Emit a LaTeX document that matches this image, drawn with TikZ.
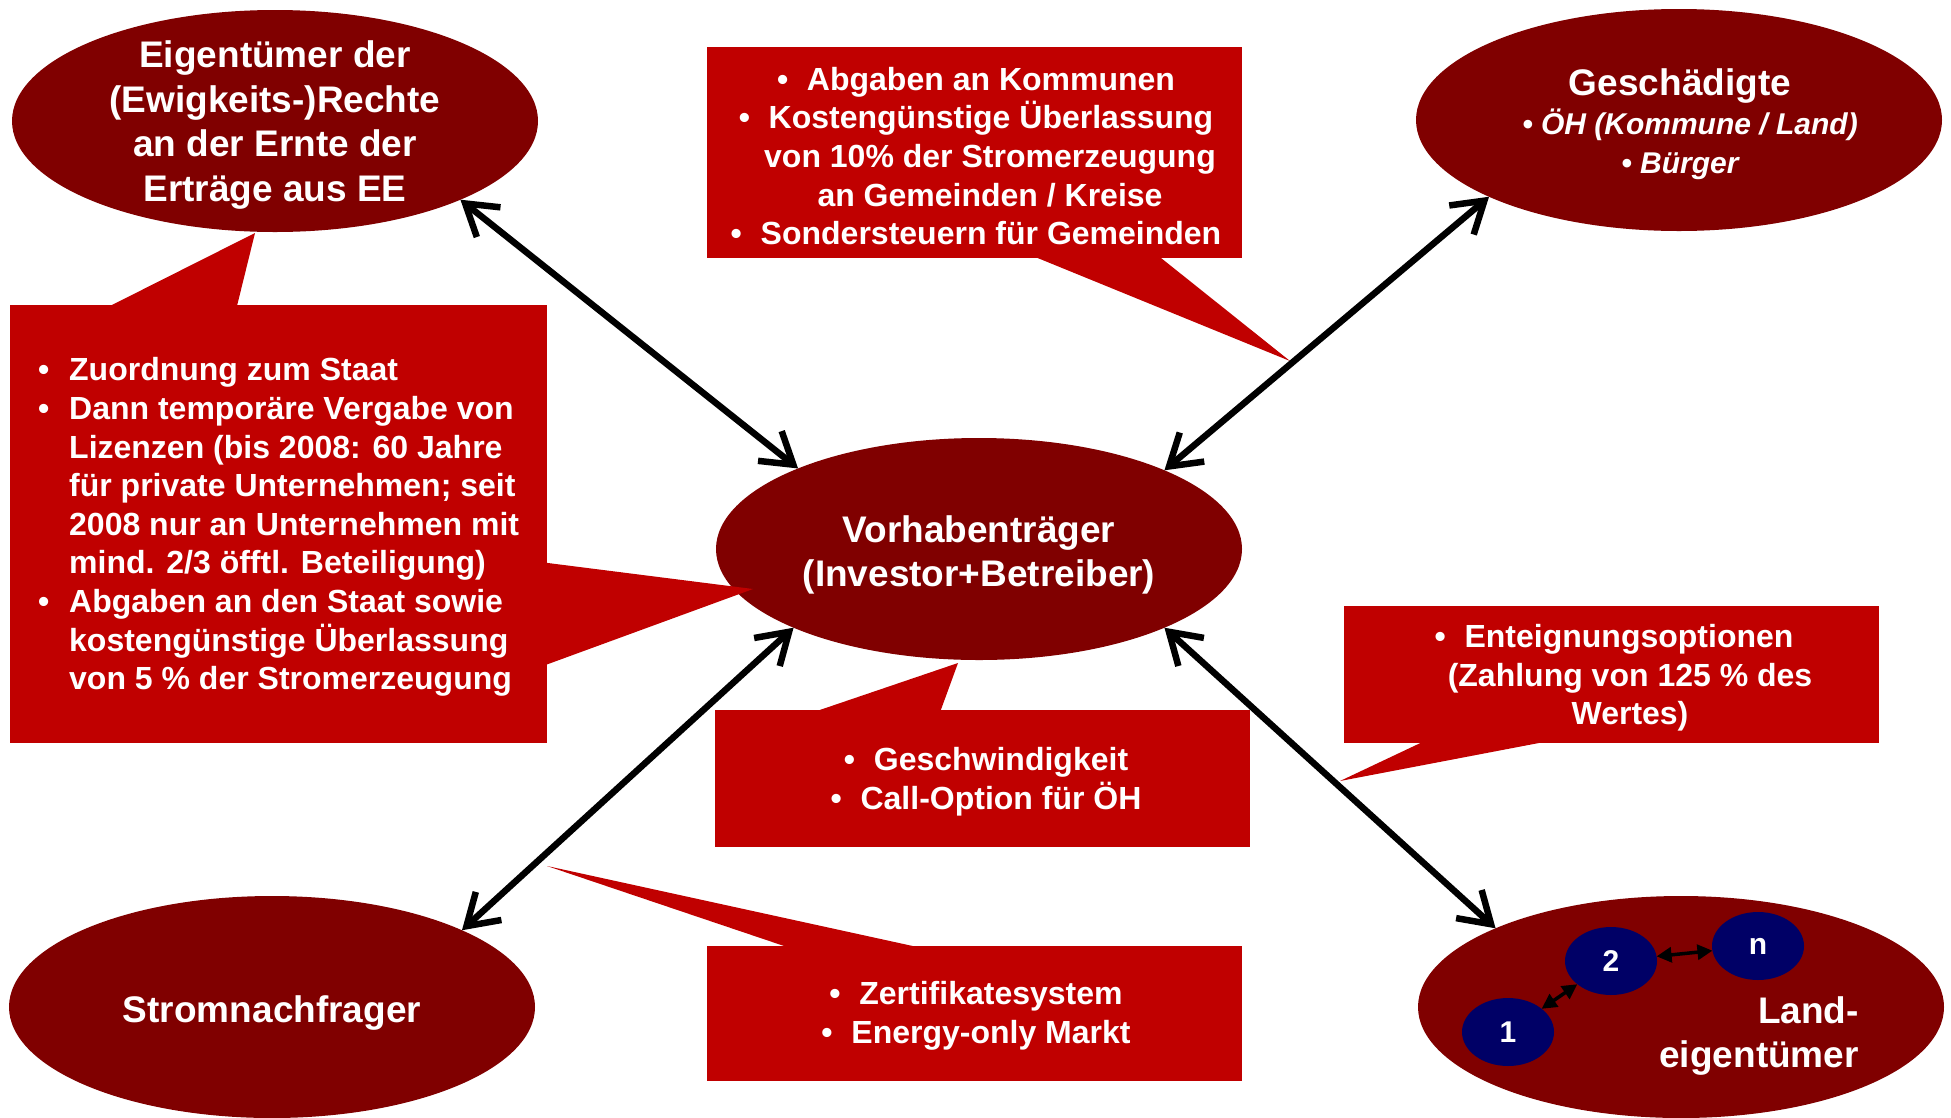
\documentclass[tikz,border=0pt]{standalone}
\usepackage{fontspec}
\setmainfont{Liberation Sans}
\usetikzlibrary{shapes.geometric,arrows.meta}
\definecolor{ellred}{RGB}{128,0,0}
\definecolor{boxred}{RGB}{192,0,0}
\definecolor{ownblue}{RGB}{0,0,102}
\newcommand{\bulA}{\makebox[31pt][l]{\textbullet}}
\newcommand{\indA}{\hspace*{31pt}}
\newcommand{\bulB}{\makebox[30pt][l]{\textbullet}}
\begin{document}
\begin{tikzpicture}[x=1pt,y=-1pt,
  bigell/.style={ellipse, fill=ellred, minimum width=526pt, minimum height=222pt, inner sep=0pt, outer sep=0pt},
  smallell/.style={ellipse, fill=ownblue, minimum width=92pt, minimum height=68pt, inner sep=0pt, outer sep=0pt, text=white, font=\bfseries\fontsize{30}{36}\selectfont},
  titletext/.style={text=white, font=\bfseries\fontsize{37}{44.5}\selectfont, align=center, inner sep=0pt},
  subtext/.style={text=white, font=\bfseries\itshape\fontsize{30}{36}\selectfont, inner sep=0pt},
  callbox/.style={fill=boxred, inner sep=0pt, outer sep=0pt, anchor=north west},
  calltext/.style={text=white, font=\bfseries\fontsize{32}{38.6}\selectfont, align=center, inner sep=0pt},
  pointer/.style={fill=boxred},
  bigarrow/.style={line width=6.5pt, arrows={Straight Barb[length=30pt,width=38pt]-Straight Barb[length=30pt,width=38pt]}},
  smallarrow/.style={line width=3.5pt, arrows={Triangle[length=15pt,width=15pt]-Triangle[length=15pt,width=15pt]}}
]
\fill[white] (0,0) rectangle (1951,1117);
\useasboundingbox (0,0) rectangle (1951,1117);

% main ellipses
\node[bigell] (e1) at (275,121) {};
\node[bigell] (gs) at (1679,120) {};
\node[bigell] (vt) at (979,549) {};
\node[bigell] (sn) at (272,1007) {};
\node[bigell] (le) at (1681,1007) {};

\node[titletext] (e1t) at (275,125) {Eigentümer der\\(Ewigkeits-)Rechte\\an der Ernte der\\Erträge aus EE};
\node[titletext, anchor=base] (gst) at (1680,95) {Geschädigte};
\node[subtext, anchor=base] (gs1) at (1690,134) {• ÖH (Kommune / Land)};
\node[subtext, anchor=base] (gs2) at (1680,173) {• Bürger};
\node[titletext] (vtt) at (979,555) {Vorhabenträger\\(Investor+Betreiber)};
\node[titletext, anchor=base] (snt) at (272,1022) {Stromnachfrager};
\node[titletext, align=right, anchor=east] (let) at (1859,1036) {Land-\\eigentümer};

% land owners
\node[smallell] (b1) at (1508,1032) {1};
\node[smallell] (b2) at (1611,961) {2};
\node[smallell] (bn) at (1758,946) {n};
\draw[smallarrow] (b1) -- (b2);
\draw[smallarrow] (b2) -- (bn);

% left callout
\node[callbox, minimum width=537pt, minimum height=438pt] (lb) at (10,305) {};
\fill[pointer] (102,310) -- (255,233) -- (236,310) -- cycle;
\fill[pointer] (540,562) -- (753,589) -- (540,667) -- cycle;
\node[calltext, align=left, anchor=west] (lbt) at (38,527) {\bulA Zuordnung zum Staat\\
\bulA Dann temporäre Vergabe von\\
\indA Lizenzen (bis 2008: 60 Jahre\\
\indA für private Unternehmen; seit\\
\indA 2008 nur an Unternehmen mit\\
\indA mind. 2/3 öfftl. Beteiligung)\\
\bulA Abgaben an den Staat sowie\\
\indA kostengünstige Überlassung\\
\indA von 5 \% der Stromerzeugung};

% top callout
\node[callbox, minimum width=535pt, minimum height=211pt] (tb) at (707,47) {};
\fill[pointer] (1018,250) -- (1290,361) -- (1151,250) -- cycle;
\node[calltext] (tbt) at (976,156) {\bulB Abgaben an Kommunen\\
\bulB Kostengünstige Überlassung\\
\hspace*{28pt}von 10\% der Stromerzeugung\\
\hspace*{28pt}an Gemeinden / Kreise\\
\bulB Sondersteuern für Gemeinden};

% middle callout
\node[callbox, minimum width=535pt, minimum height=137pt] (mb) at (715,710) {};
\fill[pointer] (805,715) -- (958,663) -- (939,715) -- cycle;
\node[calltext] (mbt) at (986,782) {\bulB Geschwindigkeit\\ \bulB Call-Option für ÖH};

% right callout
\node[callbox, minimum width=535pt, minimum height=137pt] (rb) at (1344,606) {};
\fill[pointer] (1431,738) -- (1340,781) -- (1565,738) -- cycle;
\node[calltext] (rbt) at (1614,678) {\bulB Enteignungsoptionen\\
\hspace*{32pt}(Zahlung von 125 \% des\\
\hspace*{32pt}Wertes)};

% bottom callout
\node[callbox, minimum width=535pt, minimum height=135pt] (bb) at (707,946) {};
\fill[pointer] (796,950) -- (547,866) -- (931,950) -- cycle;
\node[calltext] (bbt) at (976,1016) {\bulB Zertifikatesystem\\ \bulB Energy-only Markt};

% arrows
\draw[bigarrow] (e1.-23.5) -- (vt.156.7);
\draw[bigarrow] (gs.202.8) -- (vt.23);
\draw[bigarrow] (vt.203.6) -- (sn.22.7);
\draw[bigarrow] (vt.-23.2) -- (le.157);
\end{tikzpicture}
\end{document}
